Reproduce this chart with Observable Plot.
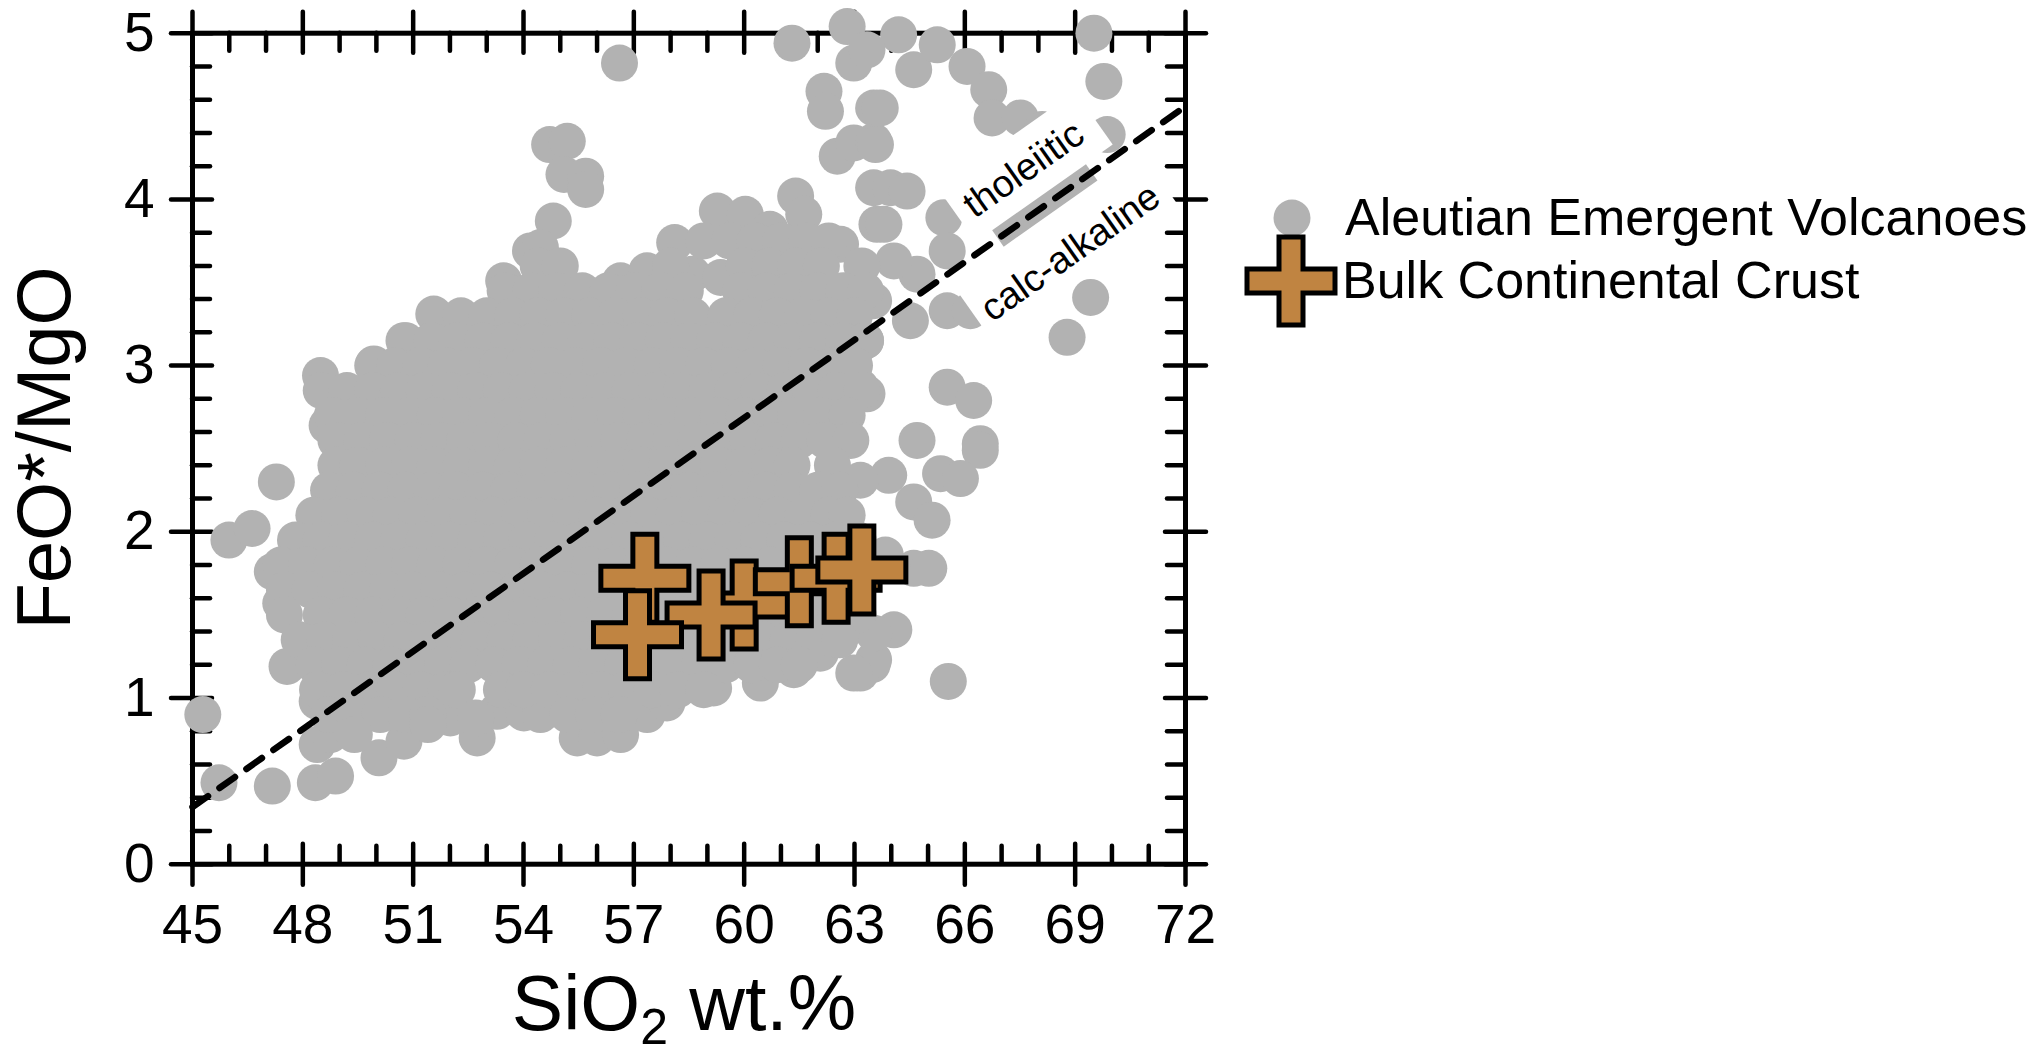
<!DOCTYPE html>
<html>
<head>
<meta charset="utf-8">
<script src="https://cdn.jsdelivr.net/npm/d3@7"></script>
<script src="https://cdn.jsdelivr.net/npm/@observablehq/plot@0.6"></script>
<style>
  body { margin: 0; background: #fff; }
  svg { display: block; }
</style>
</head>
<body>
<div id="chart"></div>
<script>
// ---------------- data ----------------
const xMajor = [45, 48, 51, 54, 57, 60, 63, 66, 69, 72];
const xMinor = [46, 47, 49, 50, 52, 53, 55, 56, 58, 59, 61, 62, 64, 65, 67, 68, 70, 71];
const yMajor = [0, 1, 2, 3, 4, 5];
const yMinor = [0.2, 0.4, 0.6, 0.8, 1.2, 1.4, 1.6, 1.8, 2.2, 2.4, 2.6, 2.8, 3.2, 3.4, 3.6, 3.8, 4.2, 4.4, 4.6, 4.8];

// Aleutian Emergent Volcanoes: [SiO2 wt.%, FeO*/MgO]
const aleutian = [
  [45.28,0.90],[45.72,0.49],[47.17,0.47],[48.34,0.49],[48.89,0.53],
  [45.99,1.95],[46.62,2.02],[47.28,2.30],[47.17,1.76],[47.57,1.19],[47.40,1.57],
  [48.39,0.72],[48.75,0.78],[48.39,0.98],[50.07,0.64],[50.75,0.74],[52.01,0.88],[52.74,0.76],[53.28,0.92],[54.01,0.91],
  [54.46,0.90],[55.37,0.98],[55.46,0.76],[56.00,0.76],[56.64,0.78],[57.36,0.90],[57.90,0.97],[59.17,1.06],[60.44,1.09],
  [61.35,1.17],[62.07,1.27],
  [48.48,2.94],[48.66,2.64],[49.93,3.01],[50.75,3.15],[51.56,3.31],[52.56,3.24],[53.19,3.25],[53.46,3.51],[54.19,3.69],
  [56.61,4.82],[54.71,4.33],[55.19,4.35],[55.10,4.15],[55.69,4.14],[55.69,4.06],[54.81,3.87],[54.46,3.71],[58.11,3.74],
  [59.27,3.93],[60.03,3.91],[61.40,4.02],[61.62,3.91],
  [56.64,3.51],[57.36,3.57],[58.59,3.55],[55.91,3.39],[59.36,3.53],[62.62,3.73],[62.98,3.39],[62.62,3.21],[63.07,3.11],
  [63.16,2.87],[61.08,2.95],[60.44,2.77],[59.72,2.93],[61.89,2.99],
  [61.30,4.94],[62.80,5.04],[62.98,4.82],[62.17,4.65],[62.21,4.53],[62.53,4.26],[62.98,4.34],[63.52,4.55],[63.52,4.35],
  [63.52,4.07],[63.61,3.85],
  [64.20,4.99],[64.61,4.78],[65.25,4.93],[63.34,4.90],[69.51,5.00],[69.78,4.71],[66.06,4.80],[66.65,4.66],[66.74,4.49],
  [67.51,4.49],[68.10,4.42],[69.87,4.39],[63.70,4.55],[63.57,4.33],[63.98,4.07],[64.43,4.05],[63.80,3.85],[65.43,3.89],
  [65.52,3.69],[64.70,3.55],[64.07,3.63],[63.52,3.39],[64.52,3.27],[65.52,3.33],[66.15,3.33],[69.42,3.41],[68.78,3.17],
  [65.52,2.87],[66.24,2.79],[64.70,2.55],[66.42,2.53],[63.34,2.83],[63.30,3.15],
  [66.42,2.49],[63.93,2.34],[65.34,2.35],[65.88,2.32],[64.61,2.18],[65.11,2.07],[63.16,2.31],[63.84,1.86],[64.61,1.78],
  [65.02,1.78],[64.07,1.41],[63.48,1.20],[63.16,1.15],[65.55,1.10],[63.52,1.23],[62.98,1.15],[62.62,1.37],[63.52,1.39],
  [60.7,3.82],
  [58.9,3.75],[59.6,3.75],[60.3,3.75],[61.0,3.75],[61.7,3.75],[62.3,3.75],
  [54.4,3.6],[55.0,3.6],[58.0,3.6],[60.0,3.6],[60.7,3.6],[61.4,3.6],[62.1,3.6],[63.2,3.6],
  [53.5,3.45],[54.2,3.45],[54.9,3.45],[55.6,3.45],[56.3,3.45],[57.0,3.45],[57.7,3.45],[58.4,3.45],[59.9,3.45],[60.6,3.45],
  [61.3,3.45],[62.0,3.45],[62.7,3.45],[63.3,3.45],
  [52.3,3.3],[53.0,3.3],[53.7,3.3],[54.4,3.3],[55.1,3.3],[55.8,3.3],[56.5,3.3],[57.2,3.3],[57.9,3.3],[58.6,3.3],[59.5,3.3],
  [60.2,3.3],[60.9,3.3],[61.6,3.3],[62.3,3.3],[63.0,3.3],
  [50.8,3.15],[51.5,3.15],[52.2,3.15],[52.9,3.15],[53.6,3.15],[54.3,3.15],[55.0,3.15],[55.7,3.15],[56.4,3.15],[57.1,3.15],
  [57.8,3.15],[58.5,3.15],[59.2,3.15],[59.9,3.15],[60.6,3.15],[61.3,3.15],[62.0,3.15],[62.7,3.15],[63.3,3.15],
  [49.9,3.0],[50.5,3.0],[51.2,3.0],[51.9,3.0],[52.6,3.0],[53.3,3.0],[54.0,3.0],[54.7,3.0],[55.4,3.0],[56.1,3.0],[56.8,3.0],
  [57.5,3.0],[58.2,3.0],[58.9,3.0],[59.6,3.0],[60.3,3.0],[61.0,3.0],[61.7,3.0],[62.4,3.0],[63.0,3.0],
  [48.5,2.85],[49.2,2.85],[49.9,2.85],[50.6,2.85],[51.3,2.85],[52.0,2.85],[52.7,2.85],[53.4,2.85],[54.1,2.85],[54.8,2.85],
  [55.5,2.85],[56.2,2.85],[56.9,2.85],[57.6,2.85],[58.3,2.85],[59.0,2.85],[59.7,2.85],[60.4,2.85],[61.1,2.85],[61.8,2.85],
  [62.5,2.85],[63.2,2.85],
  [48.8,2.7],[49.5,2.7],[50.2,2.7],[50.9,2.7],[51.6,2.7],[52.3,2.7],[53.0,2.7],[53.7,2.7],[54.4,2.7],[55.1,2.7],[55.8,2.7],
  [56.5,2.7],[57.2,2.7],[57.9,2.7],[58.6,2.7],[59.3,2.7],[60.0,2.7],[60.7,2.7],[61.4,2.7],[62.1,2.7],[62.8,2.7],
  [48.9,2.55],[49.6,2.55],[50.3,2.55],[51.0,2.55],[51.7,2.55],[52.4,2.55],[53.1,2.55],[53.8,2.55],[54.5,2.55],[55.2,2.55],
  [55.9,2.55],[56.6,2.55],[57.3,2.55],[58.0,2.55],[58.7,2.55],[59.4,2.55],[60.1,2.55],[60.8,2.55],[61.5,2.55],[62.2,2.55],
  [62.9,2.55],
  [48.9,2.4],[49.5,2.4],[50.2,2.4],[50.9,2.4],[51.6,2.4],[52.3,2.4],[53.0,2.4],[53.7,2.4],[54.4,2.4],[55.1,2.4],[55.8,2.4],
  [56.5,2.4],[57.2,2.4],[57.9,2.4],[58.6,2.4],[59.3,2.4],[60.0,2.4],[60.7,2.4],[61.3,2.4],[62.4,2.4],
  [48.7,2.25],[49.4,2.25],[50.1,2.25],[50.8,2.25],[51.5,2.25],[52.2,2.25],[52.9,2.25],[53.6,2.25],[54.3,2.25],[55.0,2.25],
  [55.7,2.25],[56.4,2.25],[57.1,2.25],[57.8,2.25],[58.5,2.25],[59.2,2.25],[59.9,2.25],[60.6,2.25],[61.3,2.25],[62.0,2.25],
  [62.6,2.25],
  [48.3,2.1],[49.0,2.1],[49.7,2.1],[50.4,2.1],[51.1,2.1],[51.8,2.1],[52.5,2.1],[53.2,2.1],[53.9,2.1],[54.6,2.1],[55.3,2.1],
  [56.0,2.1],[56.7,2.1],[57.4,2.1],[58.1,2.1],[58.8,2.1],[59.5,2.1],[60.2,2.1],[60.9,2.1],[61.6,2.1],[62.3,2.1],[62.8,2.1],
  [47.8,1.95],[48.5,1.95],[49.2,1.95],[49.9,1.95],[50.6,1.95],[51.3,1.95],[52.0,1.95],[52.7,1.95],[53.4,1.95],[54.1,1.95],
  [54.8,1.95],[55.5,1.95],[56.2,1.95],[56.9,1.95],[57.6,1.95],[58.3,1.95],[59.0,1.95],[59.7,1.95],[60.4,1.95],[61.1,1.95],
  [61.8,1.95],[62.5,1.95],[63.1,1.95],
  [47.4,1.8],[48.1,1.8],[48.8,1.8],[49.5,1.8],[50.2,1.8],[50.9,1.8],[51.6,1.8],[52.3,1.8],[53.0,1.8],[53.7,1.8],[54.4,1.8],
  [55.1,1.8],[55.8,1.8],[56.5,1.8],[57.2,1.8],[57.9,1.8],[58.6,1.8],[59.3,1.8],[60.0,1.8],[60.7,1.8],[61.4,1.8],[62.1,1.8],
  [62.8,1.8],
  [47.5,1.65],[48.2,1.65],[48.9,1.65],[49.6,1.65],[50.3,1.65],[51.0,1.65],[51.7,1.65],[52.4,1.65],[53.1,1.65],[53.8,1.65],
  [54.5,1.65],[55.2,1.65],[55.9,1.65],[56.6,1.65],[57.3,1.65],[58.0,1.65],[58.7,1.65],[59.4,1.65],[60.1,1.65],[60.8,1.65],
  [61.5,1.65],[62.2,1.65],[62.9,1.65],
  [47.5,1.5],[48.5,1.5],[49.2,1.5],[49.9,1.5],[50.6,1.5],[51.3,1.5],[52.0,1.5],[52.7,1.5],[53.4,1.5],[54.1,1.5],[54.8,1.5],
  [55.5,1.5],[56.2,1.5],[56.9,1.5],[57.6,1.5],[58.3,1.5],[59.0,1.5],[59.7,1.5],[60.4,1.5],[61.1,1.5],[61.8,1.5],[62.5,1.5],
  [63.1,1.5],
  [47.9,1.35],[48.6,1.35],[49.3,1.35],[50.0,1.35],[50.7,1.35],[51.4,1.35],[52.1,1.35],[52.8,1.35],[53.5,1.35],[54.2,1.35],
  [54.9,1.35],[55.6,1.35],[56.3,1.35],[57.0,1.35],[57.7,1.35],[58.4,1.35],[59.1,1.35],[59.8,1.35],[60.5,1.35],[61.2,1.35],
  [61.9,1.35],[62.6,1.35],
  [48.3,1.2],[49.0,1.2],[49.7,1.2],[50.4,1.2],[51.1,1.2],[51.8,1.2],[52.5,1.2],[53.2,1.2],[53.9,1.2],[54.6,1.2],[55.3,1.2],
  [56.0,1.2],[56.7,1.2],[57.4,1.2],[58.1,1.2],[58.8,1.2],[59.5,1.2],[60.2,1.2],[60.9,1.2],[61.5,1.2],
  [48.4,1.05],[49.1,1.05],[49.8,1.05],[50.5,1.05],[51.2,1.05],[51.9,1.05],[52.2,1.05],[53.4,1.05],[54.0,1.05],[54.7,1.05],
  [55.4,1.05],[56.1,1.05],[56.8,1.05],[57.5,1.05],[58.2,1.05],[58.9,1.05],
  [48.7,0.9],[49.4,0.9],[50.1,0.9],[50.8,0.9],[51.4,0.9],[52.7,0.88],[55.2,0.9],[55.9,0.9],[56.6,0.9],
  [49.4,0.78],[51.4,0.84]
];

// Bulk Continental Crust (listed in drawing order)
const crustSiO2  = [57.3, 60.0, 61.5, 62.5, 63.2, 59.1, 57.1];
const crustRatio = [1.72, 1.56, 1.70, 1.72, 1.77, 1.50, 1.38];

// Miyashiro tholeiitic / calc-alkaline divide
const divideSiO2  = [45, 72];
const divideRatio = [0.344, 4.56];

// label annotations
const labelText  = ["tholeiitic", "calc-alkaline"];
const labelSiO2  = [67.6, 68.87];
const labelRatio = [4.18, 3.68];
const boxFromSiO2 = [65.78, 66.21], boxFromRatio = [3.906, 3.317];
const boxToSiO2   = [69.51, 71.32], boxToRatio   = [4.490, 4.116];
const bandSiO2 = [66.9, 69.45], bandRatio = [3.765, 4.163];

const legendLabels = ["Aleutian Emergent Volcanoes", "Bulk Continental Crust"];

// ---------------- layout / style ----------------
const W = 2044, H = 1057;
const ML = 192, MR = W - 1185, MT = 32.7, MB = H - 863.7;
const pw = W - ML - MR, ph = H - MT - MB;
const FONT = "'Liberation Sans', Arial, Helvetica, sans-serif";
const GRAY = "#b2b2b2";
const BROWN = "#c08441";
const TW = 4.5;

const crossSymbol = {
  draw(context, size) {
    const L = Math.sqrt(size / Math.PI), a = L * 12 / 44;
    context.moveTo(-a, -L); context.lineTo(a, -L); context.lineTo(a, -a);
    context.lineTo(L, -a); context.lineTo(L, a); context.lineTo(a, a);
    context.lineTo(a, L); context.lineTo(-a, L); context.lineTo(-a, a);
    context.lineTo(-L, a); context.lineTo(-L, -a); context.lineTo(-a, -a);
    context.closePath();
  }
};

const crust = crustSiO2.map((x, i) => ({x, y: crustRatio[i]}));
const divide = divideSiO2.map((x, i) => ({x, y: divideRatio[i]}));
const labels = labelText.map((t, i) => ({t, x: labelSiO2[i], y: labelRatio[i]}));
const boxes = boxFromSiO2.map((x1, i) => ({x1, y1: boxFromRatio[i], x2: boxToSiO2[i], y2: boxToRatio[i]}));
const band = [{x1: bandSiO2[0], y1: bandRatio[0], x2: bandSiO2[1], y2: bandRatio[1]}];

const tick = {stroke: "black", strokeWidth: TW, strokeLinecap: "round"};

const chart = Plot.plot({
  width: W, height: H,
  marginLeft: ML, marginRight: MR, marginTop: MT, marginBottom: MB,
  x: {domain: [45, 72], axis: null},
  y: {domain: [0, 5], axis: null},
  style: {fontFamily: FONT, background: "white", overflow: "visible", color: "black"},
  marks: [
    Plot.frame({stroke: "black", strokeWidth: 5}),
    // major ticks crossing the frame
    Plot.tickX(xMajor, {x: d => d, insetTop: ph - 20, insetBottom: -21, ...tick}),
    Plot.tickX(xMajor, {x: d => d, insetTop: -21, insetBottom: ph - 20, ...tick}),
    Plot.tickY(yMajor, {y: d => d, insetLeft: -21, insetRight: pw - 20, ...tick}),
    Plot.tickY(yMajor, {y: d => d, insetLeft: pw - 20, insetRight: -21, ...tick}),
    // minor inward ticks
    Plot.tickX(xMinor, {x: d => d, insetTop: ph - 18, insetBottom: 0, ...tick}),
    Plot.tickX(xMinor, {x: d => d, insetTop: 0, insetBottom: ph - 18, ...tick}),
    Plot.tickY(yMinor, {y: d => d, insetLeft: 0, insetRight: pw - 18, ...tick}),
    Plot.tickY(yMinor, {y: d => d, insetLeft: pw - 18, insetRight: 0, ...tick}),
    // data
    Plot.dot(aleutian, {x: d => d[0], y: d => d[1], r: 18.5, fill: GRAY}),
    Plot.dot(crust, {x: "x", y: "y", symbol: crossSymbol, r: 44, fill: BROWN, stroke: "black", strokeWidth: 5}),
    // label boxes and band
    Plot.link(boxes, {x1: "x1", y1: "y1", x2: "x2", y2: "y2", stroke: "white", strokeWidth: 65, strokeLinecap: "butt"}),
    Plot.link(band, {x1: "x1", y1: "y1", x2: "x2", y2: "y2", stroke: GRAY, strokeWidth: 20, strokeLinecap: "butt"}),
    Plot.line(divide, {x: "x", y: "y", stroke: "black", strokeWidth: 6.5, strokeDasharray: "19,14"}),
    Plot.text(labels, {x: "x", y: "y", text: "t", rotate: -35.2, fontSize: 38, fill: "black"}),
    // tick labels
    Plot.text(xMajor, {x: d => d, frameAnchor: "bottom", dy: 79, text: d => String(d), fontSize: 55, fill: "black"}),
    Plot.text(yMajor, {y: d => d, frameAnchor: "left", dx: -38, textAnchor: "end", text: d => String(d), fontSize: 55, fill: "black"})
  ]
});

const svg = d3.select(chart);

// axis titles
const xt = svg.append("text")
  .attr("x", 684).attr("y", 1030)
  .attr("text-anchor", "middle")
  .attr("font-family", FONT).attr("font-size", 77).attr("fill", "black");
xt.append("tspan").text("SiO");
xt.append("tspan").attr("font-size", 50).attr("dy", 14).text("2");
xt.append("tspan").attr("dy", -14).text(" wt.%");

svg.append("text")
  .attr("transform", "translate(70,448) rotate(-90)")
  .attr("text-anchor", "middle")
  .attr("font-family", FONT).attr("font-size", 76).attr("fill", "black")
  .text("FeO*/MgO");

// legend
svg.append("circle").attr("cx", 1292).attr("cy", 218).attr("r", 18.5).attr("fill", GRAY);
const cp = d3.path(); crossSymbol.draw(cp, 44 * 44 * Math.PI);
svg.append("path").attr("d", cp.toString())
  .attr("transform", "translate(1291,281)")
  .attr("fill", BROWN).attr("stroke", "black").attr("stroke-width", 5);
svg.append("text").attr("x", 1345).attr("y", 235).attr("text-anchor", "start")
  .attr("font-family", FONT).attr("font-size", 52).attr("fill", "black").text(legendLabels[0]);
svg.append("text").attr("x", 1342).attr("y", 298).attr("text-anchor", "start")
  .attr("font-family", FONT).attr("font-size", 52).attr("fill", "black").text(legendLabels[1]);

document.getElementById("chart").appendChild(chart);
</script>
</body>
</html>
